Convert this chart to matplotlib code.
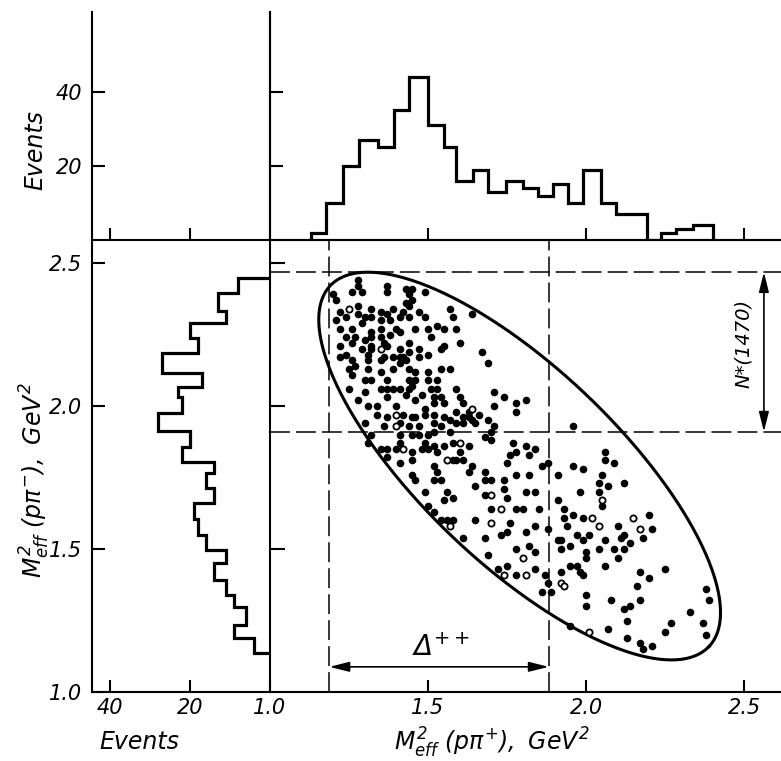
import numpy as np
import matplotlib
matplotlib.use("Agg")
import matplotlib.pyplot as plt
from matplotlib import font_manager

# ---------------------------------------------------------------------------
# data
# ---------------------------------------------------------------------------
# projection on M^2(p pi+), GeV^2
top_edges = [1.130, 1.177, 1.230, 1.283, 1.341, 1.391, 1.441, 1.499, 1.552, 1.589,
             1.641, 1.689, 1.747, 1.800, 1.847, 1.895, 1.942, 1.990, 2.047, 2.095,
             2.145, 2.193, 2.237, 2.285, 2.338, 2.401]
top_counts = [2, 10, 20, 27, 25, 35, 44, 31, 25, 16, 19, 13, 16, 14, 12, 15, 10, 19,
              10, 7, 7, 0, 2, 3, 4]

# projection on M^2(p pi-), GeV^2
side_edges = [1.135, 1.188, 1.234, 1.298, 1.339, 1.392, 1.452, 1.497, 1.549, 1.604,
              1.660, 1.712, 1.765, 1.805, 1.858, 1.913, 1.974, 2.032, 2.067, 2.114,
              2.184, 2.237, 2.289, 2.332, 2.394, 2.446]
side_counts = [4, 9, 6, 9, 11, 14, 11, 16, 18, 19, 14, 16, 14, 22, 20, 28, 22, 23,
               17, 27, 18, 20, 11, 13, 8]

# events (M^2(p pi+), M^2(p pi-)), filled circles
dot_x = [
    1.28, 1.28, 1.26, 1.29, 1.37, 1.37, 1.43, 1.45, 1.49, 1.44, 1.45, 1.43, 1.20, 1.21,
    1.28, 1.22, 1.32, 1.35, 1.39, 1.42, 1.44, 1.47, 1.49, 1.57, 1.58, 1.21, 1.24, 1.28,
    1.30, 1.32, 1.37, 1.38, 1.41, 1.44, 1.29, 1.35, 1.22, 1.26, 1.32, 1.35, 1.40, 1.41,
    1.46, 1.50, 1.53, 1.55, 1.24, 1.27, 1.30, 1.32, 1.35, 1.38, 1.22, 1.26, 1.32, 1.36,
    1.37, 1.44, 1.51, 1.55, 1.29, 1.32, 1.41, 1.44, 1.47, 1.50, 1.54, 1.22, 1.24, 1.26,
    1.31, 1.31, 1.35, 1.36, 1.39, 1.41, 1.42, 1.43, 1.41, 1.47, 1.25, 1.27, 1.31, 1.35,
    1.39, 1.44, 1.46, 1.50, 1.54, 1.57, 1.26,
    1.30, 1.32, 1.37, 1.44, 1.46, 1.50, 1.53, 1.25, 1.30, 1.35, 1.37, 1.39, 1.41, 1.44,
    1.45, 1.51, 1.53, 1.59, 1.28, 1.37, 1.43, 1.46, 1.48, 1.52, 1.54, 1.52, 1.55, 1.31,
    1.34, 1.40, 1.49, 1.34, 1.37, 1.42, 1.45, 1.46, 1.49, 1.52, 1.55, 1.59, 1.30, 1.36,
    1.41, 1.44, 1.47, 1.52, 1.54, 1.57, 1.32, 1.41, 1.45, 1.47, 1.50, 1.52, 1.57, 1.31,
    1.41, 1.49, 1.52, 1.55, 1.58, 1.35, 1.37, 1.40, 1.45, 1.48, 1.50, 1.53, 1.37, 1.41,
    1.45, 1.52, 1.58,
    1.64, 1.59, 1.60, 1.67, 1.69, 1.60, 1.61, 1.71, 1.74, 1.71, 1.78, 1.81, 1.78, 1.61,
    1.63, 1.63, 1.64, 1.66, 1.61, 1.65, 1.69, 1.71, 1.59, 1.70, 1.68, 1.70, 1.63, 1.60,
    1.59, 1.61, 1.64, 1.77, 1.78, 1.76, 1.81, 1.84, 1.82, 1.75, 1.86, 1.88, 1.96,
    1.45, 1.46, 1.53, 1.52, 1.54, 1.63, 1.68, 1.68, 1.70, 1.74, 1.74, 1.78, 1.82, 1.49,
    1.56, 1.58, 1.55, 1.65, 1.68, 1.75, 1.81, 1.84, 1.50, 1.52, 1.54, 1.56, 1.58, 1.65,
    1.70, 1.78, 1.80, 1.85, 1.76, 1.75, 1.73, 1.68, 1.61, 1.81, 1.84, 1.88, 1.69, 1.78,
    1.82, 1.84, 1.72, 1.75, 1.78, 1.84, 1.87, 1.88, 1.86, 1.89,
    2.06, 2.06, 2.09, 1.96, 1.99, 2.05, 2.04, 2.07, 2.12, 1.98, 2.04, 2.05, 1.91, 1.91,
    1.93, 1.93, 1.96, 1.99, 2.10, 2.20, 2.21, 1.94, 1.97, 2.01, 2.06, 2.11, 2.12, 2.14,
    2.18, 1.99, 1.92, 1.91, 1.95, 1.92, 2.04, 2.09, 2.12, 2.00, 2.00, 2.10, 1.95, 1.97,
    1.98, 1.99, 1.92, 2.06, 2.17, 2.20, 2.25, 2.16, 2.00, 2.00, 2.08, 2.12, 2.14, 2.17,
    2.13, 2.38, 2.39, 2.33, 2.37, 2.38, 2.27, 2.25, 1.95, 2.07, 2.13, 2.17, 2.18, 2.21,
]
dot_y = [
    2.44, 2.42, 2.40, 2.40, 2.42, 2.40, 2.41, 2.41, 2.40, 2.39, 2.37, 2.36, 2.39, 2.37,
    2.35, 2.33, 2.34, 2.33, 2.34, 2.33, 2.35, 2.33, 2.31, 2.34, 2.31, 2.30, 2.31, 2.32,
    2.31, 2.31, 2.32, 2.30, 2.31, 2.31, 2.29, 2.30, 2.27, 2.27, 2.26, 2.27, 2.27, 2.26,
    2.27, 2.27, 2.28, 2.27, 2.24, 2.24, 2.23, 2.24, 2.24, 2.25, 2.21, 2.22, 2.21, 2.22,
    2.21, 2.22, 2.24, 2.21, 2.20, 2.20, 2.20, 2.19, 2.20, 2.18, 2.20, 2.17, 2.18, 2.16,
    2.18, 2.16, 2.16, 2.17, 2.17, 2.17, 2.17, 2.16, 2.15, 2.17, 2.13, 2.14, 2.13, 2.12,
    2.13, 2.13, 2.12, 2.12, 2.13, 2.13, 2.11,
    2.09, 2.09, 2.09, 2.09, 2.09, 2.09, 2.09, 2.06, 2.05, 2.06, 2.06, 2.06, 2.06, 2.06,
    2.07, 2.06, 2.06, 2.06, 2.02, 2.03, 2.04, 2.02, 2.04, 2.03, 2.03, 2.01, 2.01, 2.00,
    2.00, 2.00, 1.99, 1.97, 1.96, 1.97, 1.96, 1.96, 1.97, 1.97, 1.96, 1.98, 1.94, 1.93,
    1.94, 1.93, 1.93, 1.94, 1.93, 1.95, 1.90, 1.90, 1.90, 1.90, 1.90, 1.91, 1.91, 1.87,
    1.87, 1.87, 1.86, 1.86, 1.87, 1.85, 1.85, 1.85, 1.84, 1.85, 1.85, 1.84, 1.82, 1.80,
    1.81, 1.79, 1.81,
    2.32, 2.27, 2.22, 2.19, 2.15, 2.03, 2.01, 2.05, 2.03, 2.00, 2.01, 2.02, 1.98, 1.96,
    1.98, 1.96, 1.95, 1.97, 1.94, 1.94, 1.95, 1.93, 1.94, 1.91, 1.89, 1.88, 1.86, 1.84,
    1.81, 1.81, 1.79, 1.87, 1.84, 1.83, 1.86, 1.85, 1.83, 1.80, 1.79, 1.80, 1.93,
    1.76, 1.74, 1.77, 1.74, 1.74, 1.77, 1.77, 1.74, 1.74, 1.74, 1.71, 1.76, 1.76, 1.70,
    1.70, 1.68, 1.67, 1.72, 1.69, 1.68, 1.70, 1.70, 1.65, 1.63, 1.60, 1.60, 1.60, 1.60,
    1.64, 1.64, 1.64, 1.64, 1.59, 1.56, 1.55, 1.54, 1.54, 1.56, 1.58, 1.57, 1.48, 1.50,
    1.51, 1.49, 1.43, 1.44, 1.41, 1.43, 1.41, 1.38, 1.35, 1.35,
    1.84, 1.81, 1.80, 1.79, 1.78, 1.76, 1.73, 1.72, 1.73, 1.70, 1.70, 1.65, 1.76, 1.67,
    1.64, 1.61, 1.62, 1.61, 1.58, 1.62, 1.57, 1.58, 1.55, 1.55, 1.53, 1.54, 1.55, 1.52,
    1.54, 1.53, 1.53, 1.53, 1.51, 1.50, 1.50, 1.50, 1.50, 1.49, 1.47, 1.47, 1.44, 1.44,
    1.42, 1.41, 1.42, 1.44, 1.42, 1.40, 1.43, 1.37, 1.34, 1.30, 1.32, 1.29, 1.30, 1.32,
    1.25, 1.36, 1.32, 1.28, 1.24, 1.20, 1.24, 1.21, 1.23, 1.22, 1.19, 1.17, 1.15, 1.16,
]

# events drawn as open circles
open_x = [1.25, 1.35, 1.40, 1.40, 1.42, 1.56, 1.64, 1.60, 1.70, 1.57, 1.73, 1.70,
          1.80, 1.74, 1.81, 2.05, 2.02, 2.04, 2.15, 2.17, 1.92, 1.93, 2.01]
open_y = [2.34, 2.20, 1.97, 1.93, 1.85, 1.81, 1.99, 1.87, 1.69, 1.58, 1.64, 1.59,
          1.47, 1.41, 1.41, 1.67, 1.61, 1.58, 1.61, 1.57, 1.38, 1.37, 1.21]

# kinematic boundary: centre and two conjugate semi-diameters
ell_centre = (1.79, 1.79)
ell_u = (0.60, -0.63)
ell_v = (-0.21, -0.25)

# resonance bands
delta_band = (1.188, 1.882)     # Delta++ in M^2(p pi+)
nstar_band = (1.910, 2.468)     # N*(1470) in M^2(p pi-)

# ---------------------------------------------------------------------------
# style
# ---------------------------------------------------------------------------
names = {f.name for f in font_manager.fontManager.ttflist}
FONT = "DejaVu Sans"
for cand in ("Liberation Sans Narrow", "DejaVu Sans Condensed"):
    if cand in names:
        FONT = cand
        break
FS = 15 if FONT == "DejaVu Sans" else 17

plt.rcParams.update({
    "font.family": FONT,
    "font.style": "italic",
    "font.size": FS,
    "mathtext.fontset": "custom",
    "mathtext.rm": FONT + ":italic",
    "mathtext.it": FONT + ":italic",
    "mathtext.sf": FONT + ":italic",
    "axes.linewidth": 1.5,
    "xtick.major.width": 1.5,
    "ytick.major.width": 1.5,
})

W, H = 781, 761
fig = plt.figure(figsize=(W / 100, H / 100), dpi=100)


def box(x0, y0, x1, y1):
    return [x0 / W, 1 - y1 / H, (x1 - x0) / W, (y1 - y0) / H]


XMAX = 1.0 + 511 / 316
YMAX = 1.0 + 452 / 286
EMAX_TOP = 61.5
EMAX_SIDE = 44.5

ax = fig.add_axes(box(270, 240, 781, 692))
ax_top = fig.add_axes(box(270, 12, 781, 240))
ax_side = fig.add_axes(box(92, 240, 270, 692))
ax_corner = fig.add_axes(box(92, 12, 270, 240))

for a in (ax, ax_top, ax_side, ax_corner):
    a.set_facecolor("none")

# main scatter panel
ax.set_xlim(1.0, XMAX)
ax.set_ylim(1.0, YMAX)
ax.spines["right"].set_visible(False)

t = np.linspace(0, 2 * np.pi, 400)
ex = ell_centre[0] + ell_u[0] * np.cos(t) + ell_v[0] * np.sin(t)
ey = ell_centre[1] + ell_u[1] * np.cos(t) + ell_v[1] * np.sin(t)
ax.plot(ex, ey, color="black", lw=2.2)

ax.scatter(dot_x, dot_y, s=30, color="black", lw=0, zorder=3)
ax.scatter(open_x, open_y, s=20, facecolor="white", edgecolor="black", lw=1.3, zorder=3)

dash = dict(color="black", lw=1.1, dashes=(13, 4))
for xv in delta_band:
    ax.axvline(xv, **dash)
for yv in nstar_band:
    ax.axhline(yv, **dash)

arrow = dict(arrowstyle="<|-|>,head_length=0.6,head_width=0.15", color="black",
             lw=1.2, mutation_scale=20, shrinkA=0, shrinkB=0)
ax.annotate("", xy=(delta_band[0], 1.088), xytext=(delta_band[1], 1.088),
            arrowprops=arrow)
ax.annotate("", xy=(2.563, nstar_band[0]), xytext=(2.563, nstar_band[1]),
            arrowprops=arrow)
ax.text(1.54, 1.155, r"$\Delta^{++}$", fontsize=FS + 5, ha="center", va="center")
ax.text(2.497, 2.22, "N*(1470)", fontsize=FS - 1, rotation=90,
        ha="center", va="center")

ax.set_xticks([1.0, 1.5, 2.0, 2.5])
ax.set_xticklabels(["1.0", "1.5", "2.0", "2.5"])
ax.set_yticks([1.5, 2.0, 2.5])
ax.set_yticklabels([])
ax.tick_params(axis="x", direction="in", length=9, pad=4)
ax.tick_params(axis="y", direction="in", length=11)

# top histogram
ax_top.stairs(top_counts, top_edges, baseline=0, color="black", lw=2.3)
ax_top.set_xlim(1.0, XMAX)
ax_top.set_ylim(0, EMAX_TOP)
ax_top.spines[["top", "right"]].set_visible(False)
ax_top.set_xticks([1.5, 2.0, 2.5])
ax_top.set_yticks([20, 40])
ax_top.tick_params(direction="in", length=9, labelbottom=False, labelleft=False)

# side histogram
ax_side.stairs(side_counts, side_edges, baseline=0, orientation="horizontal",
               color="black", lw=2.3)
ax_side.set_xlim(EMAX_SIDE, 0)
ax_side.set_ylim(1.0, YMAX)
ax_side.spines[["top", "right"]].set_visible(False)
ax_side.set_xticks([40, 20])
ax_side.set_xticklabels(["40", "20"])
ax_side.set_yticks([1.0, 1.5, 2.0, 2.5])
ax_side.set_yticklabels(["1.0", "1.5", "2.0", "2.5"])
ax_side.tick_params(axis="x", direction="in", length=9, pad=4)
ax_side.tick_params(axis="y", direction="in", length=9, pad=7)

# empty corner carrying the event scale of the top histogram
ax_corner.set_xlim(EMAX_SIDE, 0)
ax_corner.set_ylim(0, EMAX_TOP)
ax_corner.spines["top"].set_visible(False)
ax_corner.set_xticks([40, 20])
ax_corner.set_yticks([20, 40])
ax_corner.set_yticklabels(["20", "40"])
ax_corner.tick_params(axis="x", direction="in", length=9, labelbottom=False)
ax_corner.tick_params(axis="y", direction="in", length=9, pad=7)

# axis titles
fig.text(35 / W, 1 - 150 / H, "Events", fontsize=FS + 2, rotation=90,
         ha="center", va="center")
fig.text(139 / W, 1 - 742 / H, "Events", fontsize=FS + 2, ha="center", va="center")
fig.text(492 / W, 1 - 743 / H, r"$M^{2}_{eff}\ (p\pi^{+}),\ GeV^{2}$",
         fontsize=FS + 2, ha="center", va="center")
fig.text(35 / W, 1 - 480 / H, r"$M^{2}_{eff}\ (p\pi^{-}),\ GeV^{2}$",
         fontsize=FS + 2, rotation=90, ha="center", va="center")

fig.savefig("out.png", dpi=100)
